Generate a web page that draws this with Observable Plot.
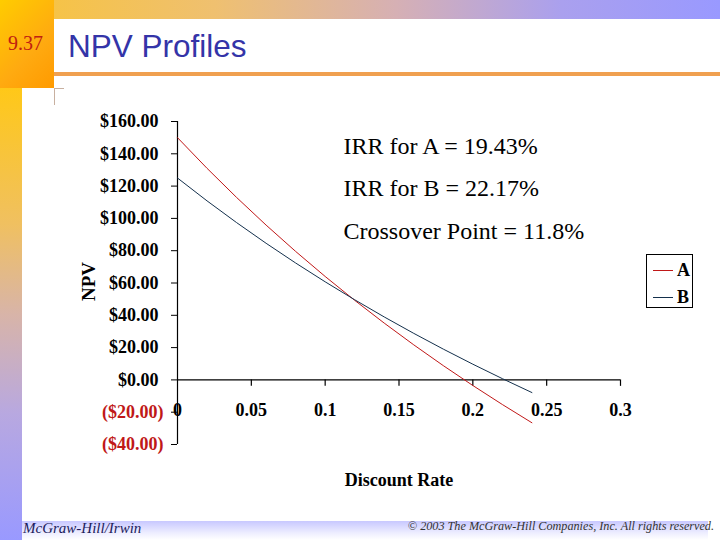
<!DOCTYPE html>
<html>
<head>
<meta charset="utf-8">
<script src="https://cdn.jsdelivr.net/npm/d3@7"></script>
<script src="https://cdn.jsdelivr.net/npm/@observablehq/plot@0.6"></script>
<style>
  html, body { margin: 0; padding: 0; }
  body { width: 720px; height: 540px; position: relative; overflow: hidden; background: #ffffff; font-family: "Liberation Serif", serif; }
  .abs { position: absolute; }
  #topbar { left: 0; top: 0; width: 720px; height: 19px; background: linear-gradient(to right, #f8c43a 0%, #efc070 30%, #d6b0b4 55%, #aaa0ee 78%, #9999ff 100%); }
  #corner { left: 0; top: 0; width: 54px; height: 88px; background: linear-gradient(135deg, #ffcc00 0%, #ffaa10 60%, #ff9a00 100%); }
  #strip { left: 0; top: 88px; width: 22px; height: 452px; background: linear-gradient(to bottom, #ffc818 0%, #f0c060 30%, #d8b4a8 50%, #b8a8e0 72%, #9999ff 100%); }
  #titlebox { left: 54px; top: 19px; width: 666px; height: 54px; background: #ffffff; }
  #rule { left: 54px; top: 72px; width: 666px; height: 4px; background: #f0a050; }
  #num { left: 8px; top: 32px; font-size: 20px; color: #c02010; }
  #title { left: 68px; top: 28px; font-family: "Liberation Sans", Arial, sans-serif; font-size: 31.5px; color: #3434a8; }
  #vline { left: 54px; top: 88px; width: 1px; height: 17px; background: #c8b0a0; }
  #hline { left: 54px; top: 88px; width: 10px; height: 1px; background: #c8b0a0; }
  #footer { left: 22px; top: 521px; width: 686px; height: 19px; background: linear-gradient(to bottom, #c8c8ff 0%, #ececff 60%, #ffffff 100%); }
  #foot1 { left: 23px; top: 520px; font-size: 15px; font-style: italic; color: #1c1c5c; }
  #foot2 { right: 6px; top: 519px; font-size: 12.2px; font-style: italic; color: #333333; }
  #chart { left: 0; top: 0; }
  #legend { left: 646px; top: 254px; width: 45px; height: 52px; border: 1px solid #000; background: #fff; }
  .lg { position: absolute; left: 6px; width: 20px; height: 0; border-top: 1px solid; }
  .lt { position: absolute; left: 30px; font-size: 18px; font-weight: bold; line-height: 18px; }
</style>
</head>
<body>
<div id="topbar" class="abs"></div>
<div id="strip" class="abs"></div>
<div id="corner" class="abs"></div>
<div id="titlebox" class="abs"></div>
<div id="rule" class="abs"></div>
<div id="vline" class="abs"></div>
<div id="hline" class="abs"></div>
<div id="num" class="abs">9.37</div>
<div id="title" class="abs">NPV Profiles</div>
<div id="footer" class="abs"></div>
<div id="foot1" class="abs">McGraw-Hill/Irwin</div>
<div id="foot2" class="abs">© 2003 The McGraw-Hill Companies, Inc. All rights reserved.</div>
<div id="chart" class="abs"></div>
<div id="legend" class="abs">
  <div class="lg" style="top:15px;border-color:#c01818"></div><div class="lt" style="top:6px">A</div>
  <div class="lg" style="top:42px;border-color:#14304c"></div><div class="lt" style="top:33px">B</div>
</div>
<script>
// Data
const rates = [0, 0.02, 0.04, 0.06, 0.08, 0.10, 0.12, 0.14, 0.16, 0.18, 0.20, 0.22, 0.24];
const npvA  = [150.00, 131.01, 112.98, 95.85, 79.56, 64.05, 49.27, 35.17, 21.70, 8.83, -3.47, -15.25, -26.54];
const npvB  = [125.00, 110.86, 97.41, 84.60, 72.39, 60.74, 49.62, 38.98, 28.81, 19.06, 9.72, 0.77, -7.83];
const seriesNames = ["A", "B"];
const seriesColors = ["#c01818", "#14304c"];
const yTicksPos = [0, 20, 40, 60, 80, 100, 120, 140, 160];
const yTicksNeg = [-20, -40];
const xTicks = [0, 0.05, 0.1, 0.15, 0.2, 0.25, 0.3];
const notes = ["IRR for A = 19.43%", "IRR for B = 22.17%", "Crossover Point = 11.8%"];

const rows = [
  ...rates.map((r, i) => ({rate: r, npv: npvA[i], series: "A"})),
  ...rates.map((r, i) => ({rate: r, npv: npvB[i], series: "B"}))
];

const fmt = d => d < 0 ? `($${Math.abs(d).toFixed(2)})` : `$${d.toFixed(2)}`;
const serif = "'Liberation Serif', 'Times New Roman', serif";
const noteDy = [15, 57, 100];

const chart = Plot.plot({
  width: 720,
  height: 540,
  marginLeft: 177,
  marginRight: 100,
  marginTop: 121,
  marginBottom: 96,
  style: {background: "transparent", fontFamily: serif, color: "#000", overflow: "visible"},
  x: {domain: [0, 0.3], axis: null},
  y: {domain: [-40, 160], axis: null},
  color: {domain: seriesNames, range: seriesColors},
  marks: [
    Plot.axisY(yTicksPos, {anchor: "left", tickSize: 6, tickPadding: 13, tickFormat: fmt, fontSize: 18, fontWeight: "bold", label: null, stroke: "#000"}),
    Plot.axisY(yTicksNeg, {anchor: "left", tickSize: 6, tickPadding: 8, tickFormat: fmt, fontSize: 18, fontWeight: "bold", fill: "#c01818", label: null}),
    Plot.ruleX([0], {stroke: "#000", strokeWidth: 1.2}),
    Plot.ruleY([0], {stroke: "#000", strokeWidth: 1.2}),
    Plot.ruleX(xTicks.filter(d => d > 0), {x: d => d, y1: 0, y2: -4, stroke: "#000", strokeWidth: 1.2}),
    Plot.text(xTicks, {x: d => d, y: 0, text: d => String(d), dy: 30, fontSize: 18, fontWeight: "bold", fill: "#000"}),
    Plot.line(rows, {x: "rate", y: "npv", z: "series", stroke: "series", strokeWidth: 1}),
    Plot.text(["NPV"], {frameAnchor: "left", dx: -89, dy: 18, rotate: -90, fontSize: 19, fontWeight: "bold", fill: "#000"}),
    Plot.text(["Discount Rate"], {frameAnchor: "bottom", dx: 0, dy: 41, fontSize: 18, fontWeight: "bold", fill: "#000"}),
    ...notes.map((t, i) => Plot.text([t], {frameAnchor: "top-left", dx: 166, dy: noteDy[i], textAnchor: "start", fontSize: 24, fill: "#000"}))
  ]
});
document.getElementById("chart").appendChild(chart);
</script>
</body>
</html>
